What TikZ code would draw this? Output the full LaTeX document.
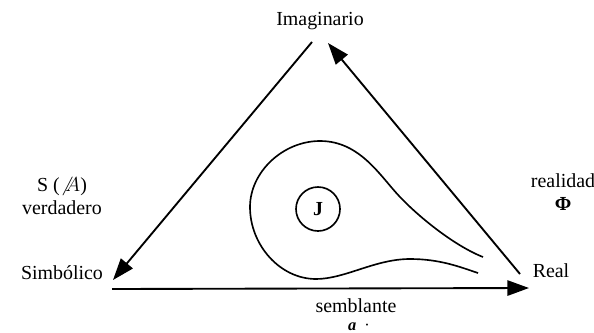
\documentclass[tikz,border=0pt]{standalone}
\usepackage{fontspec}
\setmainfont{Liberation Serif}
\usetikzlibrary{arrows.meta}

\begin{document}
\begin{tikzpicture}[
    x=0.03cm, y=-0.03cm,
    every node/.style={font=\fontsize{17}{19.5}\selectfont},
    lbl/.style={align=center, inner sep=1pt},
    arr/.style={line width=1.6pt, -{Triangle[length=6.5mm, width=4.6mm]}},
    loop/.style={line width=1.4pt},
    jcirc/.style={circle, draw, line width=1.4pt, minimum size=44*0.03cm, inner sep=0pt}
  ]
  \useasboundingbox (0,0) rectangle (594,332);
  % corners
  \node[lbl] (imag) at (320,21) {Imaginario};
  \node[lbl] (simb) at (62,273) {Simbólico};
  \node[lbl] (real) at (551,271) {Real};
  % side labels
  \node[lbl] (sver) at (62,196) {S ($\not A$)\\verdadero};
  \node[lbl] (rphi) at (563,192) {realidad\\\textbf{Φ}};
  \node[lbl, anchor=base, inner sep=0pt] (semb) at (356,312) {semblante};
  \node[lbl, anchor=base, inner sep=0pt, font=\fontsize{14}{16}\selectfont] (apet) at (359,330) {\textbf{\textit{a}}\ \ ·};
  % arrow ends
  \coordinate (imL) at (312,42);
  \coordinate (imR) at (328,43);
  \coordinate (simbT) at (113,280);
  \coordinate (simbB) at (112,289);
  \coordinate (realU) at (520,274);
  \coordinate (realB) at (529,288);
  \draw[arr] (imL) -- (simbT);
  \draw[arr] (realU) -- (imR);
  \draw[arr] (simbB) -- (realB);
  % the loop and J
  \draw[loop] (483,257) .. controls (455,246) and (420,218) .. (400,197)
    .. controls (380,176) and (360,141) .. (320,141)
    .. controls (283,141) and (250,172) .. (250,207)
    .. controls (250,245) and (280,279) .. (316,279)
    .. controls (345,279) and (375,259) .. (410,259)
    .. controls (440,259) and (460,267) .. (478,273);
  \node[jcirc] (jnode) at (318,209) {\textbf{J}};
\end{tikzpicture}
\end{document}
